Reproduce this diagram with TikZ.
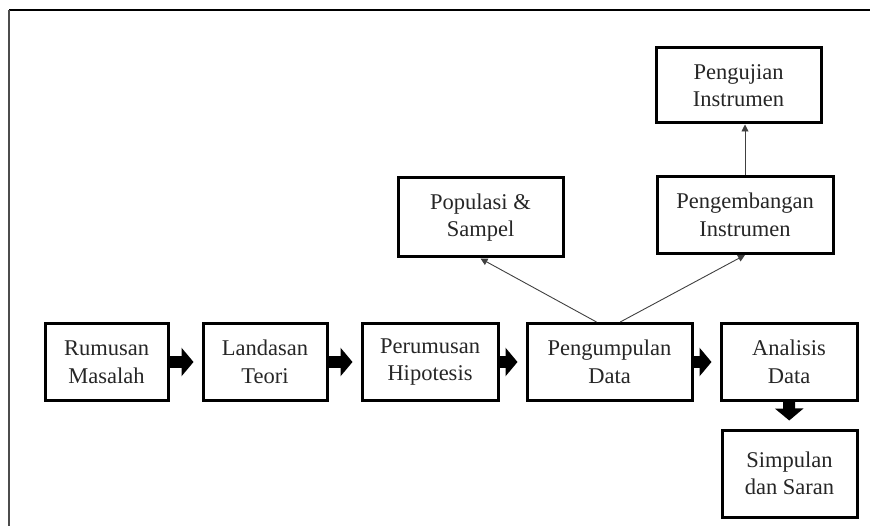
\documentclass[tikz,border=0pt]{standalone}
\usepackage{fontspec}
\setmainfont{Liberation Serif}
\usetikzlibrary{arrows.meta}

\begin{document}
\begin{tikzpicture}[x=1pt,y=-1pt]
      \tikzstyle{every node}=[font=\fontsize{22.5}{27.5}\selectfont, text=black!85]
      \tikzstyle{box}=[draw, line width=3pt, align=center, inner sep=0pt]
      \tikzstyle{fat}=[line width=12pt, -{Triangle[length=12pt,width=28pt]}, shorten >=8pt]
      \tikzstyle{thin}=[line width=0.9pt, black!75, -{Triangle[length=7pt,width=7pt]}]
      \useasboundingbox (0,0) rectangle (870,526);
      % Frame
      \draw[line width=1.3pt] (9,10) -- (870,10);
      \draw[line width=1.8pt, black!70] (9,526) -- (9,10);
      % Main Row
      \node[box, minimum width=123pt, minimum height=77pt] (rumusan) at (106.5,362) {Rumusan\\Masalah};
      \node[box, minimum width=124pt, minimum height=77pt] (landasan) at (265,362) {Landasan\\Teori};
      \node[box, minimum width=136pt, minimum height=77pt] (perumusan) at (430,362) {Perumusan\\Hipotesis};
      \node[box, minimum width=165pt, minimum height=77pt] (pengumpulan) at (609.5,362) {Pengumpulan\\Data};
      \node[box, minimum width=136pt, minimum height=77pt] (analisis) at (789,362) {Analisis\\Data};
      % Last Step
      \node[box, minimum width=135pt, minimum height=87pt] (simpulan) at (789.5,473.5) {Simpulan\\dan Saran};
      % Upper Boxes
      \node[box, minimum width=165pt, minimum height=79pt] (populasi) at (480.5,217.5) {Populasi \&\\Sampel};
      \node[box, minimum width=176pt, minimum height=77pt] (pengembangan) at (745,215) {Pengembangan\\Instrumen};
      \node[box, minimum width=165pt, minimum height=75pt] (pengujian) at (738.5,85.5) {Pengujian\\Instrumen};
      % Fat Arrows
      \draw[fat] (rumusan) -- (landasan);
      \draw[fat] (landasan) -- (perumusan);
      \draw[fat] (perumusan) -- (pengumpulan);
      \draw[fat] (pengumpulan) -- (analisis);
      \draw[fat] (analisis) -- (simpulan);
      % Thin Arrows
      \draw[thin] (pengumpulan.108) -- (populasi.south);
      \draw[thin] (pengumpulan.75) -- (pengembangan.south);
      \draw[thin] (pengembangan.north) -- (pengembangan.north |- pengujian.south);
    \end{tikzpicture}
\end{document}
